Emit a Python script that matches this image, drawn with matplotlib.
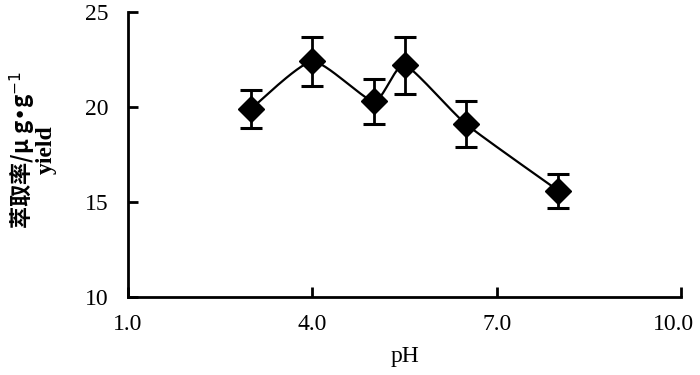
import numpy as np
import matplotlib.pyplot as plt
import matplotlib.transforms as mtransforms

# data
ph = [3.0, 4.0, 5.0, 5.5, 6.5, 8.0]
yield_vals = [19.9, 22.4, 20.3, 22.2, 19.1, 15.6]
errors = [1.0, 1.3, 1.2, 1.5, 1.2, 0.9]

x_ticks = [1.0, 4.0, 7.0, 10.0]
y_ticks = [10, 15, 20, 25]

plt.rcParams['font.family'] = ['Liberation Serif', 'Noto Sans CJK SC']


def smooth_curve(x, y, n=30, k=10):
    # light Bezier smoothing through the points, like a spreadsheet "smoothed line"
    x = np.asarray(x, float)
    y = np.asarray(y, float)
    px = np.concatenate([[x[0]], x, [x[-1]]])
    py = np.concatenate([[y[0]], y, [y[-1]]])
    xs, ys = [], []
    t = np.linspace(0, 1, n)
    for i in range(1, len(px) - 2):
        p0, p1, p2, p3 = (np.array([px[j], py[j]]) for j in (i - 1, i, i + 1, i + 2))
        c1 = p1 + (p2 - p0) / k
        c2 = p2 - (p3 - p1) / k
        pts = ((1 - t) ** 3)[:, None] * p1 + (3 * (1 - t) ** 2 * t)[:, None] * c1 \
            + (3 * (1 - t) * t ** 2)[:, None] * c2 + (t ** 3)[:, None] * p2
        xs.append(pts[:, 0])
        ys.append(pts[:, 1])
    return np.concatenate(xs), np.concatenate(ys)


fig = plt.figure(figsize=(7, 3.75), dpi=100)
ax = fig.add_axes([0.183, 0.208, 0.79, 0.76])

sx, sy = smooth_curve(ph, yield_vals)
ax.plot(sx, sy, color='black', lw=1.6)
ax.errorbar(ph, yield_vals, yerr=errors, color='black', ls='none',
            marker='D', markersize=13, elinewidth=2, capsize=8, capthick=2.2)

ax.set_xlim(1.0, 10.0)
ax.set_ylim(10, 25)
ax.set_xticks(x_ticks)
ax.set_xticklabels([f"{t:.1f}" for t in x_ticks])
ax.set_yticks(y_ticks)
ax.tick_params(direction='in', length=7, width=2, labelsize=17)
ax.tick_params(axis='x', pad=12)
ax.tick_params(axis='y', pad=14)
for s in ['top', 'right']:
    ax.spines[s].set_visible(False)
for s in ['left', 'bottom']:
    ax.spines[s].set_linewidth(2)

# nudge the last x label so it stays inside the figure
last = ax.get_xticklabels()[-1]
last.set_transform(last.get_transform() + mtransforms.ScaledTranslation(-8 / 100, 0, fig.dpi_scale_trans))

ax.set_xlabel('pH', fontsize=17, labelpad=8)

# two-line y label
fig.text(0.032, 0.60, '萃取率/μ g•g$^{-1}$', rotation=90, ha='center', va='center',
         fontsize=16, fontweight='bold', family=['Noto Sans CJK SC', 'DejaVu Serif'])
fig.text(0.066, 0.60, 'yield', rotation=90, ha='center', va='center',
         fontsize=17, fontweight='bold')

fig.savefig('out.png', dpi=100)
